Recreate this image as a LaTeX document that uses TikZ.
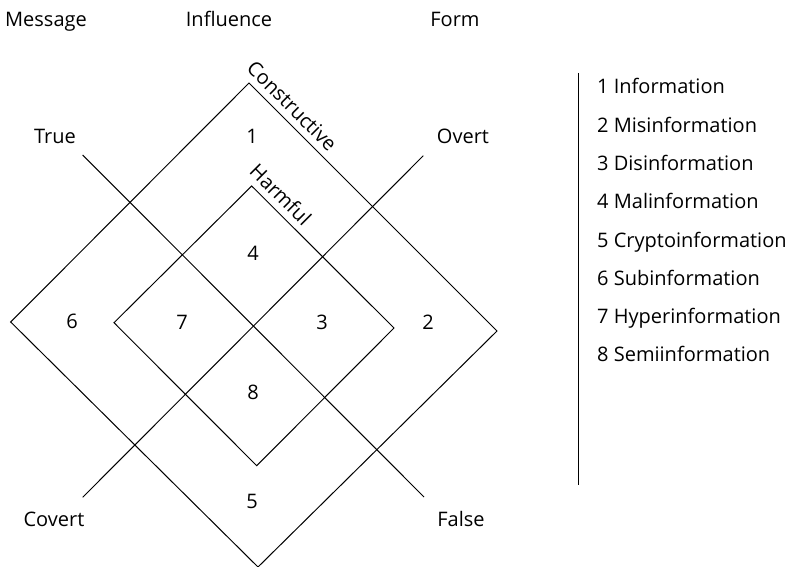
\documentclass[tikz,border=0pt]{standalone}
\usepackage{fontspec}
\setmainfont{Open Sans}
\usetikzlibrary{calc}
\begin{document}
\begin{tikzpicture}[x=1pt,y=-1pt,
  lbl/.style={inner sep=0pt, anchor=base, font=\fontsize{20}{24}\selectfont},
  edge/.style={line width=1pt, line join=miter},
  rot/.style={lbl, rotate=-45, anchor=base west}]
\useasboundingbox (0,0) rectangle (803,567);
% outer diamond
\coordinate (OT) at (249,83);
\coordinate (OR) at (497,331);
\coordinate (OB) at (258,567);
\coordinate (OL) at (10.7,322);
% inner diamond
\coordinate (IT) at (251.7,186);
\coordinate (IR) at (394,328);
\coordinate (IB) at (256.7,465.7);
\coordinate (IL) at (114,322.7);
% diagonals
\coordinate (TF1) at (82.7,155);
\coordinate (TF2) at (424,497);
\coordinate (OC1) at (423.3,155.7);
\coordinate (OC2) at (82.7,497.3);
\draw[edge] (OT) -- (OR) -- (OB) -- (OL) -- cycle;
\draw[edge] (IT) -- (IR) -- (IB) -- (IL) -- cycle;
\draw[edge] (TF1) -- (TF2);
\draw[edge] (OC1) -- (OC2);
% rotated labels
\node[rot] (constr) at ($(OT)+(-3.5,-13.4)$) {Constructive};
\node[rot] (harm) at ($(IT)+(-3.5,-13.4)$) {Harmful};
% headers
\node[lbl] (msg) at (46,26.7) {Message};
\node[lbl] (infl) at (229,26.7) {Influence};
\node[lbl] (form) at (455,26.7) {Form};
% axis labels
\node[lbl] (true) at (55,143.5) {True};
\node[lbl] (overt) at (463,144) {Overt};
\node[lbl] (covert) at (54,526.7) {Covert};
\node[lbl] (false) at (461,526.7) {False};
% region numbers
\node[lbl] (n1) at (252,143.3) {1};
\node[lbl] (n2) at (428,329.5) {2};
\node[lbl] (n3) at (322,329.5) {3};
\node[lbl] (n4) at (253,260) {4};
\node[lbl] (n5) at (252,508.3) {5};
\node[lbl] (n6) at (72,328.5) {6};
\node[lbl] (n7) at (182,329.5) {7};
\node[lbl] (n8) at (253,399) {8};
% legend
\coordinate (vl1) at (578,73);
\coordinate (vl2) at (578,485);
\draw[edge] (vl1) -- (vl2);
\foreach \t [count=\i from 0] in {1 Information,2 Misinformation,3 Disinformation,4 Malinformation,5 Cryptoinformation,6 Subinformation,7 Hyperinformation,8 Semiinformation}
  \node[lbl, anchor=base west] (leg\i) at (597,93.8+38.3*\i) {\t};
\end{tikzpicture}
\end{document}
